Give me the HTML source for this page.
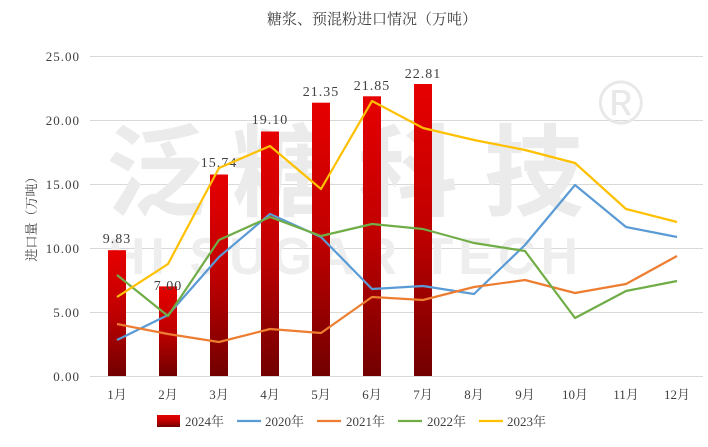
<!DOCTYPE html>
<html><head><meta charset="utf-8"><style>
body{margin:0;background:#fff}
svg{display:block}
text{font-family:"Liberation Serif","Noto Serif CJK SC",serif;fill:#404040}
text.n{letter-spacing:1px}
text.wm{font-family:"Noto Sans CJK SC","WenQuanYi Zen Hei",sans-serif;font-weight:bold;fill:#ebebeb}
text.we{font-family:"Liberation Sans",sans-serif;font-weight:bold;fill:#eeeeee}
</style></head><body>
<svg width="708" height="447" viewBox="0 0 708 447" xmlns="http://www.w3.org/2000/svg">
<defs>
<linearGradient id="g" x1="0" y1="0" x2="0" y2="1">
<stop offset="0" stop-color="#e60000"/><stop offset="0.5" stop-color="#c00000"/><stop offset="1" stop-color="#720000"/>
</linearGradient>
</defs>
<text x="372" y="24" font-size="15" text-anchor="middle" fill="#333">糖浆、预混粉进口情况（万吨）</text>
<g stroke="#d9d9d9" stroke-width="1">
<line x1="90" y1="56.5" x2="703" y2="56.5"/><line x1="90" y1="120.5" x2="703" y2="120.5"/>
<line x1="90" y1="184.5" x2="703" y2="184.5"/><line x1="90" y1="248.5" x2="703" y2="248.5"/>
<line x1="90" y1="312.5" x2="703" y2="312.5"/><line x1="90" y1="376.5" x2="703" y2="376.5"/>
</g>
<text class="wm" x="106" y="208" font-size="100" textLength="478" lengthAdjust="spacing">泛糖科技</text>
<text class="we" x="108" y="274" font-size="52" textLength="470" lengthAdjust="spacing">HI SUGAR TECH</text>
<text class="we" x="598" y="124" font-size="62" style="font-weight:normal;fill:#e8e8e8">®</text>
<g font-size="13" text-anchor="end">
<text class="n" x="80" y="61">25.00</text><text class="n" x="80" y="125">20.00</text><text class="n" x="80" y="189">15.00</text>
<text class="n" x="80" y="253">10.00</text><text class="n" x="80" y="317">5.00</text><text class="n" x="80" y="381">0.00</text>
</g>
<text transform="translate(36,216) rotate(-90)" font-size="13" text-anchor="middle">进口量（万吨）</text>
<g fill="url(#g)">
<rect x="108" y="250.2" width="18" height="125.8"/>
<rect x="159" y="286.4" width="18" height="89.6"/>
<rect x="210" y="174.5" width="18" height="201.5"/>
<rect x="261" y="131.5" width="18" height="244.5"/>
<rect x="312" y="102.7" width="18" height="273.3"/>
<rect x="363" y="96.3" width="18" height="279.7"/>
<rect x="414" y="84" width="18" height="292"/>
</g>
<g font-size="14" text-anchor="middle" fill="#222">
<text class="n" x="117" y="243">9.83</text><text class="n" x="168" y="290">7.00</text><text class="n" x="219" y="167">15.74</text>
<text class="n" x="270" y="124">19.10</text><text class="n" x="321" y="96">21.35</text><text class="n" x="372" y="90">21.85</text><text class="n" x="423" y="78">22.81</text>
</g>
<g fill="none" stroke-width="2.2" stroke-linejoin="round">
<polyline stroke="#5b9bd5" points="117,340 168,315 219,257 270,214 321,237 372,289 423,286 474,294 525,245 575,185 626,227 677,237"/>
<polyline stroke="#ed7d31" points="117,324 168,334 219,342 270,329 321,333 372,297 423,300 474,287 525,280 575,293 626,284 677,256"/>
<polyline stroke="#70ad47" points="117,275 168,316 219,240 270,217 321,236 372,224 423,229 474,243 525,251 575,318 626,291 677,281"/>
<polyline stroke="#ffc000" points="117,297 168,264 219,168 270,146 321,189 372,101 423,128 474,140 525,150 575,163 626,209 677,222"/>
</g>
<g font-size="13" text-anchor="middle">
<text x="117" y="399">1月</text><text x="168" y="399">2月</text><text x="219" y="399">3月</text><text x="270" y="399">4月</text>
<text x="321" y="399">5月</text><text x="372" y="399">6月</text><text x="423" y="399">7月</text><text x="474" y="399">8月</text>
<text x="525" y="399">9月</text><text x="575" y="399">10月</text><text x="626" y="399">11月</text><text x="677" y="399">12月</text>
</g>
<g font-size="13">
<rect x="157" y="415" width="23" height="12" fill="url(#g)"/>
<text x="185" y="426">2024年</text>
<line x1="237" y1="421" x2="261" y2="421" stroke="#5b9bd5" stroke-width="2.2"/><text x="265" y="426">2020年</text>
<line x1="317" y1="421" x2="341" y2="421" stroke="#ed7d31" stroke-width="2.2"/><text x="346" y="426">2021年</text>
<line x1="398" y1="421" x2="422" y2="421" stroke="#70ad47" stroke-width="2.2"/><text x="427" y="426">2022年</text>
<line x1="479" y1="421" x2="503" y2="421" stroke="#ffc000" stroke-width="2.2"/><text x="507" y="426">2023年</text>
</g>
</svg>
</body></html>
